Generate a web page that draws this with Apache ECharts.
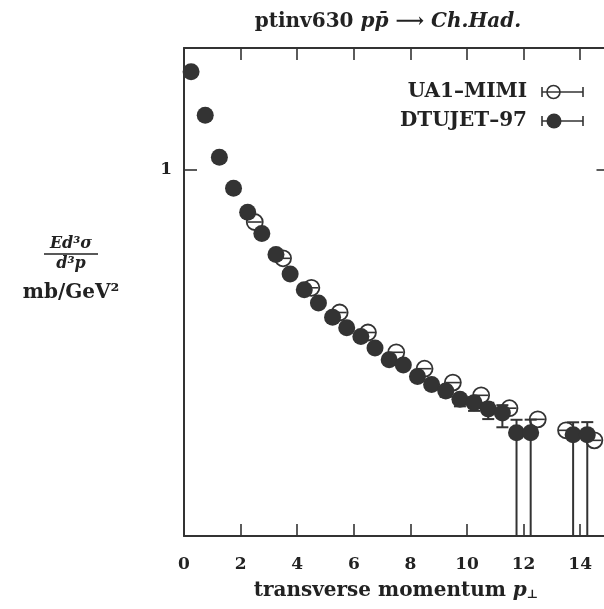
<!DOCTYPE html>
<html><head><meta charset="utf-8">
<script src="https://cdn.jsdelivr.net/npm/echarts@6/dist/echarts.min.js"></script>
<style>html,body{margin:0;padding:0;background:#fff}#c{width:604px;height:609px}</style>
</head><body><div id="c"></div>
<script>
// ---- data ----
const xTickLabels = [0, 2, 4, 6, 8, 10, 12, 14];
const xTickMarks = [2, 4, 6, 8, 10, 12, 14];
const yTickValues = [1];

// DTUJET-97 (filled circles)
const xDT = [0.25, 0.75, 1.25, 1.75, 2.25, 2.75, 3.25, 3.75, 4.25, 4.75, 5.25, 5.75, 6.25, 6.75,
             7.25, 7.75, 8.25, 8.75, 9.25, 9.75, 10.25, 10.75, 11.25, 11.75, 12.25, 13.75, 14.25];
const yDT = [262, 22.3, 2.05, 0.356, 0.0920, 0.0274, 8.39e-3, 2.77e-3, 1.13e-3, 5.36e-4, 2.38e-4,
             1.32e-4, 8.03e-5, 4.17e-5, 2.16e-5, 1.61e-5, 8.36e-6, 5.28e-6, 3.67e-6, 2.32e-6,
             1.90e-6, 1.32e-6, 1.06e-6, 3.45e-7, 3.47e-7, 3.08e-7, 3.11e-7];
// relative statistical errors of DTUJET points
const relErrDT = [0.01, 0.01, 0.01, 0.01, 0.02, 0.02, 0.03, 0.04, 0.05, 0.06, 0.08, 0.10, 0.12, 0.14,
                  0.16, 0.18, 0.20, 0.24, 0.28, 0.335, 0.372, 0.432, 0.555, 1.09, 1.09, 1.03, 1.03];

// UA1-MIMI (open circles)
const xUA = [2.5, 3.5, 4.5, 5.5, 6.5, 7.5, 8.5, 9.5, 10.5, 11.5, 12.5, 13.5, 14.5];
const yUA = [0.0526, 6.73e-3, 1.27e-3, 3.13e-4, 1.01e-4, 3.29e-5, 1.30e-5, 5.92e-6, 2.88e-6,
             1.39e-6, 7.39e-7, 3.97e-7, 2.25e-7];
const halfBin = 0.25;

// ---- chart ----
const FONT = 'DejaVu Serif';
const INK = '#333';
const yMin = 1e-9, yMax = 1e3;
const chart = echarts.init(document.getElementById('c'), null, {renderer: 'canvas'});

const dtPoints = xDT.map((x, i) => [x, yDT[i]]);
const dtErr = xDT.map((x, i) => {
  const e = relErrDT[i] * yDT[i];
  return [x, yDT[i], Math.max(yDT[i] - e, yMin), yDT[i] + e];
});
const uaPoints = xUA.map((x, i) => [x, yUA[i]]);

function errRender(params, api) {
  const x = api.value(0), lo = api.value(2), hi = api.value(3);
  const pLo = api.coord([x, lo]);
  const pHi = api.coord([x, hi]);
  const cw = 6;
  const st = {stroke: INK, lineWidth: 2};
  const ch = [
    {type: 'line', shape: {x1: pLo[0], y1: pLo[1], x2: pLo[0], y2: pHi[1]}, style: st},
    {type: 'line', shape: {x1: pHi[0] - cw, y1: pHi[1], x2: pHi[0] + cw, y2: pHi[1]}, style: st}
  ];
  if (lo > yMin * 1.0001) ch.push({type: 'line', shape: {x1: pLo[0] - cw, y1: pLo[1], x2: pLo[0] + cw, y2: pLo[1]}, style: st});
  return {type: 'group', children: ch};
}
function hbarRender(params, api) {
  const x = api.value(0), y = api.value(1);
  const a = api.coord([x - halfBin, y]);
  const b = api.coord([x + halfBin, y]);
  return {type: 'line', shape: {x1: a[0], y1: a[1], x2: b[0], y2: b[1]}, style: {stroke: INK, lineWidth: 1.6}};
}

const axisLine = {show: true, onZero: false, lineStyle: {color: INK, width: 2}};
const tickStyle = {color: INK, width: 1.6};

const option = {
  animation: false,
  backgroundColor: '#fff',
  grid: {left: 184, top: 48, width: 424.5, height: 488, containLabel: false, outerBoundsMode: 'none'},
  xAxis: [
    {type: 'value', min: 0, max: 15, position: 'bottom', axisLine: axisLine,
     axisTick: {show: true, inside: true, length: 12, customValues: xTickMarks, lineStyle: tickStyle},
     axisLabel: {show: true, customValues: xTickLabels, margin: 20, fontFamily: FONT, fontWeight: 'bold', fontSize: 17, color: '#222'},
     splitLine: {show: false}},
    {type: 'value', min: 0, max: 15, position: 'top', axisLine: axisLine,
     axisTick: {show: true, inside: true, length: 12, customValues: xTickMarks, lineStyle: tickStyle},
     axisLabel: {show: false}, splitLine: {show: false}}
  ],
  yAxis: [
    {type: 'log', logBase: 10, min: yMin, max: yMax, position: 'left', axisLine: axisLine,
     axisTick: {show: true, inside: true, length: 13, customValues: yTickValues, lineStyle: tickStyle},
     axisLabel: {show: true, customValues: yTickValues, formatter: () => '1', margin: 12, fontFamily: FONT, fontWeight: 'bold', fontSize: 17, color: '#222'},
     splitLine: {show: false}},
    {type: 'log', logBase: 10, min: yMin, max: yMax, position: 'right', axisLine: axisLine,
     axisTick: {show: true, inside: true, length: 12, customValues: yTickValues, lineStyle: tickStyle},
     axisLabel: {show: false}, splitLine: {show: false}}
  ],
  series: [
    {name: 'UA1-MIMI', type: 'scatter', data: uaPoints, symbol: 'circle', symbolSize: 16, z: 2,
     itemStyle: {color: '#fff', borderColor: INK, borderWidth: 1.8, opacity: 1}},
    {type: 'custom', data: uaPoints, renderItem: hbarRender, z: 3, encode: {x: 0, y: 1}},
    {type: 'custom', data: dtErr, renderItem: errRender, z: 4, encode: {x: 0, y: 1}},
    {name: 'DTUJET-97', type: 'scatter', data: dtPoints, symbol: 'circle', symbolSize: 17, z: 5,
     itemStyle: {color: INK, borderWidth: 0, opacity: 1}}
  ],
  graphic: [
    // title
    {type: 'text', x: 388, y: 22, style: {
      text: '{b|ptinv630 }{i|pp\u0304}{b| \u27F6 }{i|Ch.Had.}', align: 'center', verticalAlign: 'middle',
      rich: {b: {fontFamily: FONT, fontWeight: 'bold', fontSize: 20, fill: '#222'},
             i: {fontFamily: FONT, fontStyle: 'italic', fontWeight: 'bold', fontSize: 20, fill: '#222'}}
    }, z: 10},
    // y label
    {type: 'text', x: 71, y: 252, style: {text: 'Ed\u00B3\u03C3', fontFamily: FONT, fontStyle: 'italic', fontWeight: 'bold', fontSize: 16, fill: '#222', align: 'center', verticalAlign: 'bottom'}},
    {type: 'line', shape: {x1: 44, y1: 254, x2: 98, y2: 254}, style: {stroke: '#222', lineWidth: 1.5}},
    {type: 'text', x: 71, y: 256, style: {text: 'd\u00B3p', fontFamily: FONT, fontStyle: 'italic', fontWeight: 'bold', fontSize: 16, fill: '#222', align: 'center', verticalAlign: 'top'}},
    {type: 'text', x: 71, y: 293, style: {text: 'mb/GeV\u00B2', fontFamily: FONT, fontWeight: 'bold', fontSize: 20, fill: '#222', align: 'center', verticalAlign: 'middle'}},
    // x axis name
    {type: 'text', x: 396, y: 591, style: {
      text: '{b|transverse momentum }{i|p}{s|\u22A5}', align: 'center', verticalAlign: 'middle',
      rich: {b: {fontFamily: FONT, fontWeight: 'bold', fontSize: 20, fill: '#222'},
             i: {fontFamily: FONT, fontStyle: 'italic', fontWeight: 'bold', fontSize: 20, fill: '#222'},
             s: {fontFamily: FONT, fontWeight: 'bold', fontSize: 12, fill: '#222', padding: [8, 0, 0, 0]}}
    }},
    // legend
    {type: 'text', x: 527, y: 92, style: {text: 'UA1\u2013MIMI', fontFamily: FONT, fontWeight: 'bold', fontSize: 20, fill: '#222', align: 'right', verticalAlign: 'middle'}},
    {type: 'text', x: 527, y: 121, style: {text: 'DTUJET\u201397', fontFamily: FONT, fontWeight: 'bold', fontSize: 20, fill: '#222', align: 'right', verticalAlign: 'middle'}},
    {type: 'line', shape: {x1: 542, y1: 92, x2: 583, y2: 92}, style: {stroke: INK, lineWidth: 1.6}},
    {type: 'line', shape: {x1: 542, y1: 87, x2: 542, y2: 97}, style: {stroke: INK, lineWidth: 1.6}},
    {type: 'line', shape: {x1: 583, y1: 87, x2: 583, y2: 97}, style: {stroke: INK, lineWidth: 1.6}},
    {type: 'circle', shape: {cx: 553.5, cy: 92, r: 6.5}, style: {fill: 'rgba(0,0,0,0)', stroke: INK, lineWidth: 1.6}},
    {type: 'line', shape: {x1: 542, y1: 121, x2: 583, y2: 121}, style: {stroke: INK, lineWidth: 1.6}},
    {type: 'line', shape: {x1: 542, y1: 116, x2: 542, y2: 126}, style: {stroke: INK, lineWidth: 1.6}},
    {type: 'line', shape: {x1: 583, y1: 116, x2: 583, y2: 126}, style: {stroke: INK, lineWidth: 1.6}},
    {type: 'circle', shape: {cx: 554, cy: 121, r: 7.5}, style: {fill: INK}}
  ]
};
chart.setOption(option);
</script>
</body></html>
